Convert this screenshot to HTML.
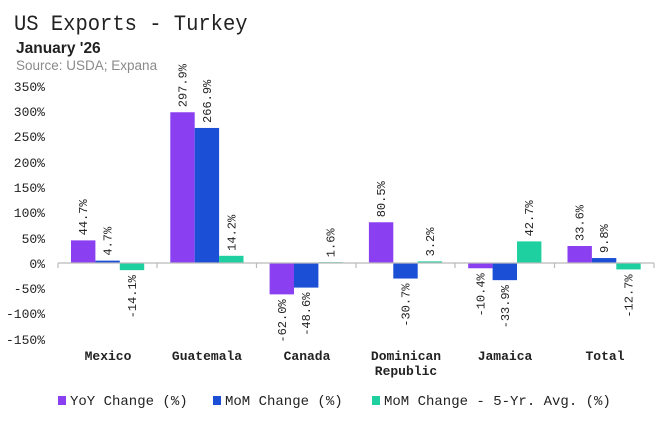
<!DOCTYPE html>
<html><head><meta charset="utf-8"><style>
html,body{margin:0;padding:0;background:#fff;}
svg{display:block;}
text{font-family:"Liberation Mono",monospace;fill:#222;}
</style></head><body>
<svg width="661" height="421" viewBox="0 0 661 421" xmlns="http://www.w3.org/2000/svg">
<text x="14" y="30" font-size="20.5" fill="#1a2a2a" transform="translate(0,-3) scale(1,1.1)">US Exports - Turkey</text>
<text x="16" y="53" font-size="15.5" font-weight="bold" style="font-family:'Liberation Sans',sans-serif">January '26</text>
<text x="16" y="70" font-size="13.5" style="font-family:'Liberation Sans',sans-serif;fill:#8a8a8a">Source: USDA; Expana</text>
<g font-size="13" text-anchor="end">
<text x="45" y="91">350%</text><text x="45" y="116">300%</text><text x="45" y="141">250%</text><text x="45" y="167">200%</text><text x="45" y="192">150%</text><text x="45" y="217">100%</text><text x="45" y="243">50%</text><text x="45" y="268">0%</text><text x="45" y="293">-50%</text><text x="45" y="318">-100%</text><text x="45" y="344">-150%</text>
</g>
<g id="bars"></g>
<line x1="58" y1="263" x2="654" y2="263" stroke="#bbb" stroke-width="1.2"/>
<g stroke="#bbb" stroke-width="1.2">
<line x1="58" y1="263" x2="58" y2="268"/><line x1="157" y1="263" x2="157" y2="268"/><line x1="256.5" y1="263" x2="256.5" y2="268"/><line x1="356" y1="263" x2="356" y2="268"/><line x1="455" y1="263" x2="455" y2="268"/><line x1="554.5" y1="263" x2="554.5" y2="268"/><line x1="654" y1="263" x2="654" y2="268"/>
</g>
<g font-size="13" text-anchor="middle" font-weight="bold">
<text x="108" y="360">Mexico</text><text x="207" y="360">Guatemala</text><text x="307" y="360">Canada</text><text x="406" y="360">Dominican</text><text x="406" y="375">Republic</text><text x="505" y="360">Jamaica</text><text x="605" y="360">Total</text>
</g>
<g font-size="14">
<rect x="58" y="396" width="8" height="9" fill="#8a3ff0"/><text x="70" y="405">YoY Change (%)</text>
<rect x="213" y="396" width="8" height="9" fill="#1a4fd6"/><text x="225" y="405">MoM Change (%)</text>
<rect x="372" y="396" width="8" height="9" fill="#1ecfa0"/><text x="384" y="405">MoM Change - 5-Yr. Avg. (%)</text>
</g>
<g id="g">
<script>
(function(){
var d=[[44.7,4.7,-14.1],[297.9,266.9,14.2],[-62.0,-48.6,1.6],[80.5,-30.7,3.2],[-10.4,-33.9,42.7],[33.6,9.8,-12.7]];
var c=["#8a3ff0","#1a4fd6","#1ecfa0"];var ns="http://www.w3.org/2000/svg";
var g=document.getElementById("bars");var s=0.506,z=263,bw=24.4;
for(var i=0;i<6;i++){for(var j=0;j<3;j++){var v=d[i][j];var x=58+i*99.3+13+j*bw;var h=Math.abs(v)*s;
var r=document.createElementNS(ns,"rect");r.setAttribute("x",x);r.setAttribute("width",bw);r.setAttribute("y",v>=0?z-h:z);r.setAttribute("height",Math.max(h,0.8));r.setAttribute("fill",c[j]);g.appendChild(r);
var t=document.createElementNS(ns,"text");var cx=x+bw/2+4;var ty=v>=0?z-h-5:z+h+5;
t.setAttribute("transform","translate("+cx+","+ty+") rotate(-90)");t.setAttribute("font-size","12");t.setAttribute("text-anchor",v>=0?"start":"end");
t.textContent=v.toFixed(1)+"%";g.appendChild(t);}}
})();
</script>
</g>
</svg>
</body></html>
